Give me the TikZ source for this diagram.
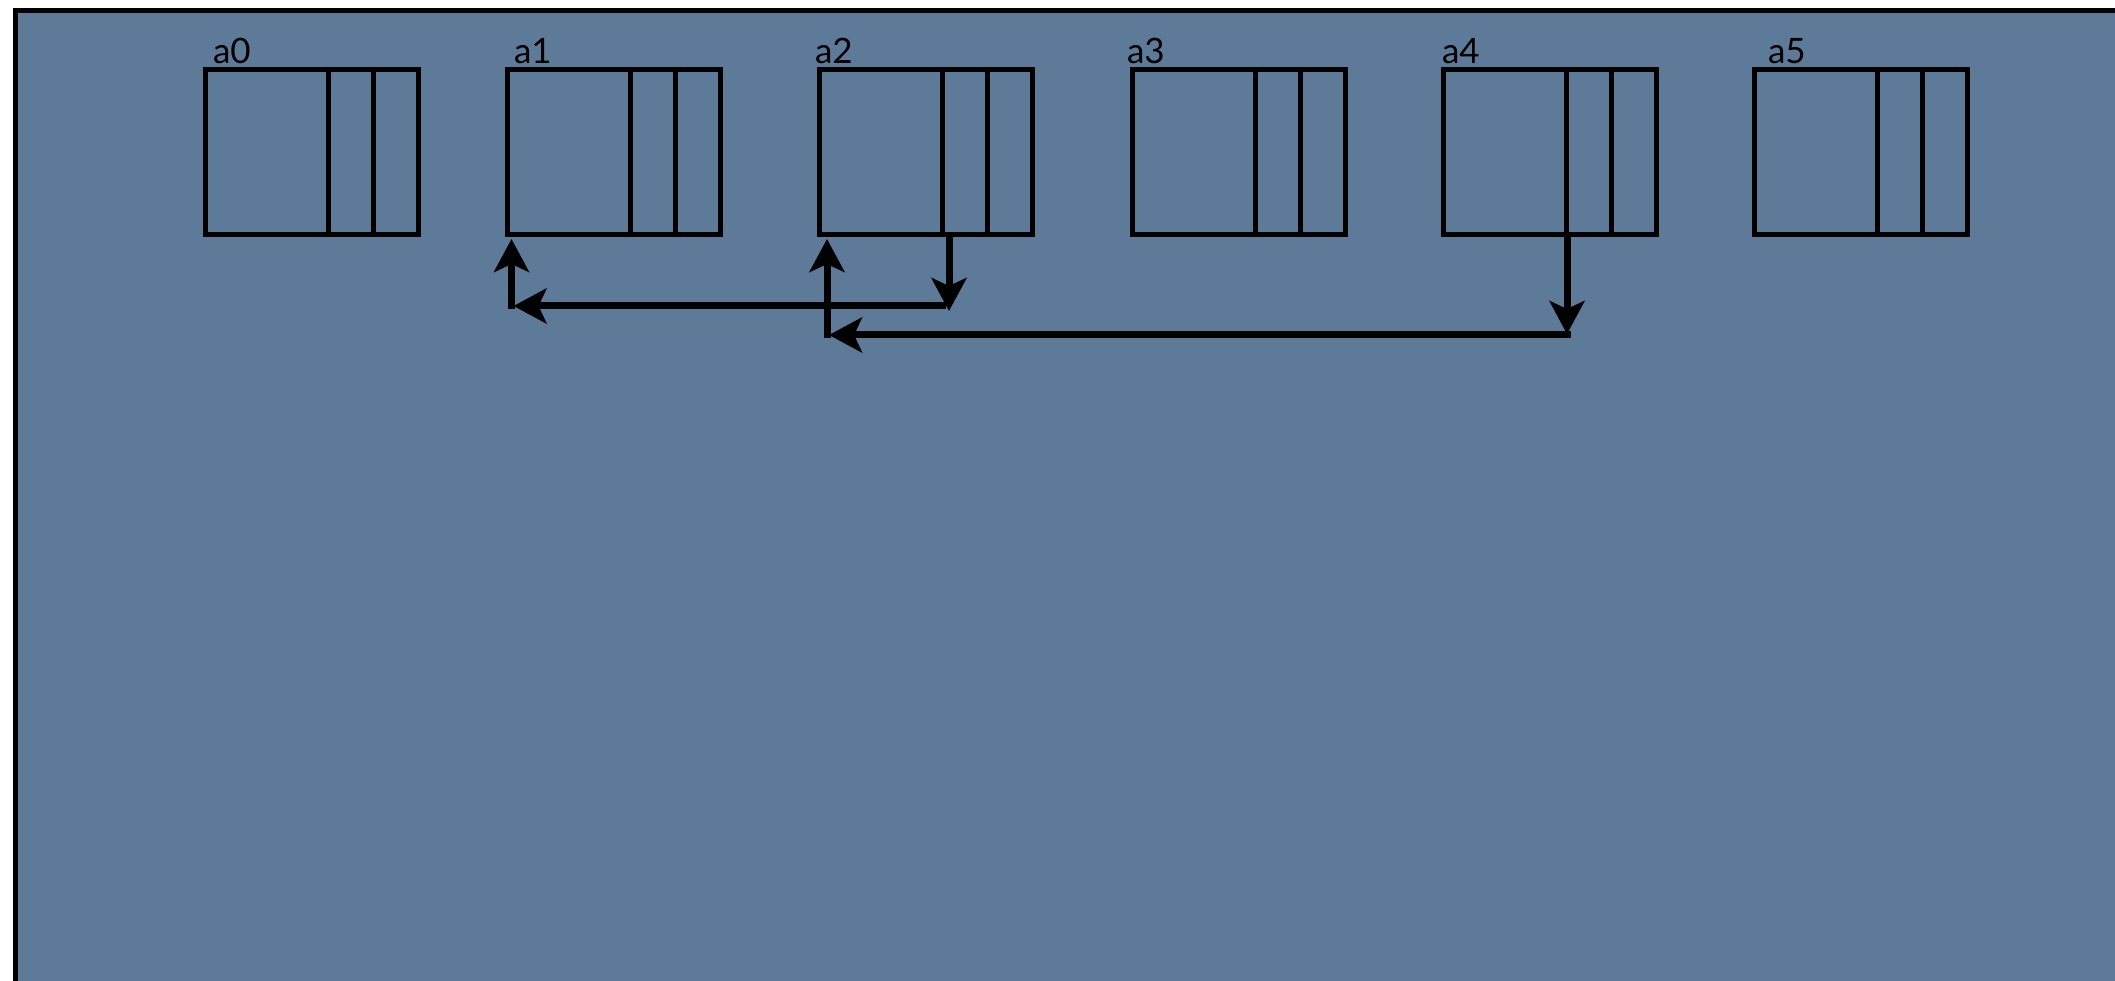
\documentclass[tikz,border=0pt]{standalone}
\usepackage{fontspec}
\setmainfont{Lato}
\usetikzlibrary{arrows.meta,calc}
\definecolor{slate}{RGB}{94,122,153}
\tikzset{
  cellbox/.style={draw=black, line width=5pt, minimum width=213pt, minimum height=164.5pt, inner sep=0pt, outer sep=0pt, anchor=north west},
  divline/.style={draw=black, line width=5pt},
  lbl/.style={anchor=base west, inner sep=0pt, outer sep=0pt, font=\fontsize{35}{42}\selectfont},
  link/.style={line width=7pt, -{Stealth[length=33pt,width=35pt,inset=8pt]}},
}
\begin{document}
\begin{tikzpicture}[x=1pt,y=-1pt]
\useasboundingbox (0,0) rectangle (2115,981);
\fill[white] (0,0) rectangle (2115,981);
\fill[black] (13,8) rectangle (2115,981);
\fill[slate] (18,13) rectangle (2115,981);
\foreach \n/\x/\lx in {a0/205/213, a1/507/514, a2/819/815, a3/1132/1127, a4/1443/1442, a5/1754/1768} {
  \node[cellbox] (\n) at (\x,70) {};
  \draw[divline] ($(\n.north west)+(123,0)$) -- ($(\n.south west)+(123,0)$);
  \draw[divline] ($(\n.north west)+(168,0)$) -- ($(\n.south west)+(168,0)$);
  \node[lbl] (\n-label) at (\lx,63.5) {\n};
}
% arrow chain a2 -> a1
\coordinate (p1) at ($(a2.south west)+(130,0)$);
\coordinate (c1) at ($(a2.south west)+(130,71.5)$);
\coordinate (c2) at ($(a1.south west)+(4.5,71.5)$);
\draw[link] (p1) -- ($(c1)+(0,5)$);
\draw[link] ($(c1)+(-3.5,0)$) -- ($(c2)+(2,0)$);
\draw[link] ($(c2)+(0,3.5)$) -- ($(a1.south west)+(4.5,4.5)$);
% arrow chain a4 -> a2
\coordinate (p2) at ($(a4.south west)+(124,0)$);
\coordinate (c3) at ($(a4.south west)+(124,100.5)$);
\coordinate (c4) at ($(a2.south west)+(8,100.5)$);
\draw[link] (p2) -- ($(c3)+(0,-1)$);
\draw[link] ($(c3)+(3.5,0)$) -- ($(c4)+(2,0)$);
\draw[link] ($(c4)+(0,3.5)$) -- ($(a2.south west)+(8,4.5)$);
\end{tikzpicture}
\end{document}
